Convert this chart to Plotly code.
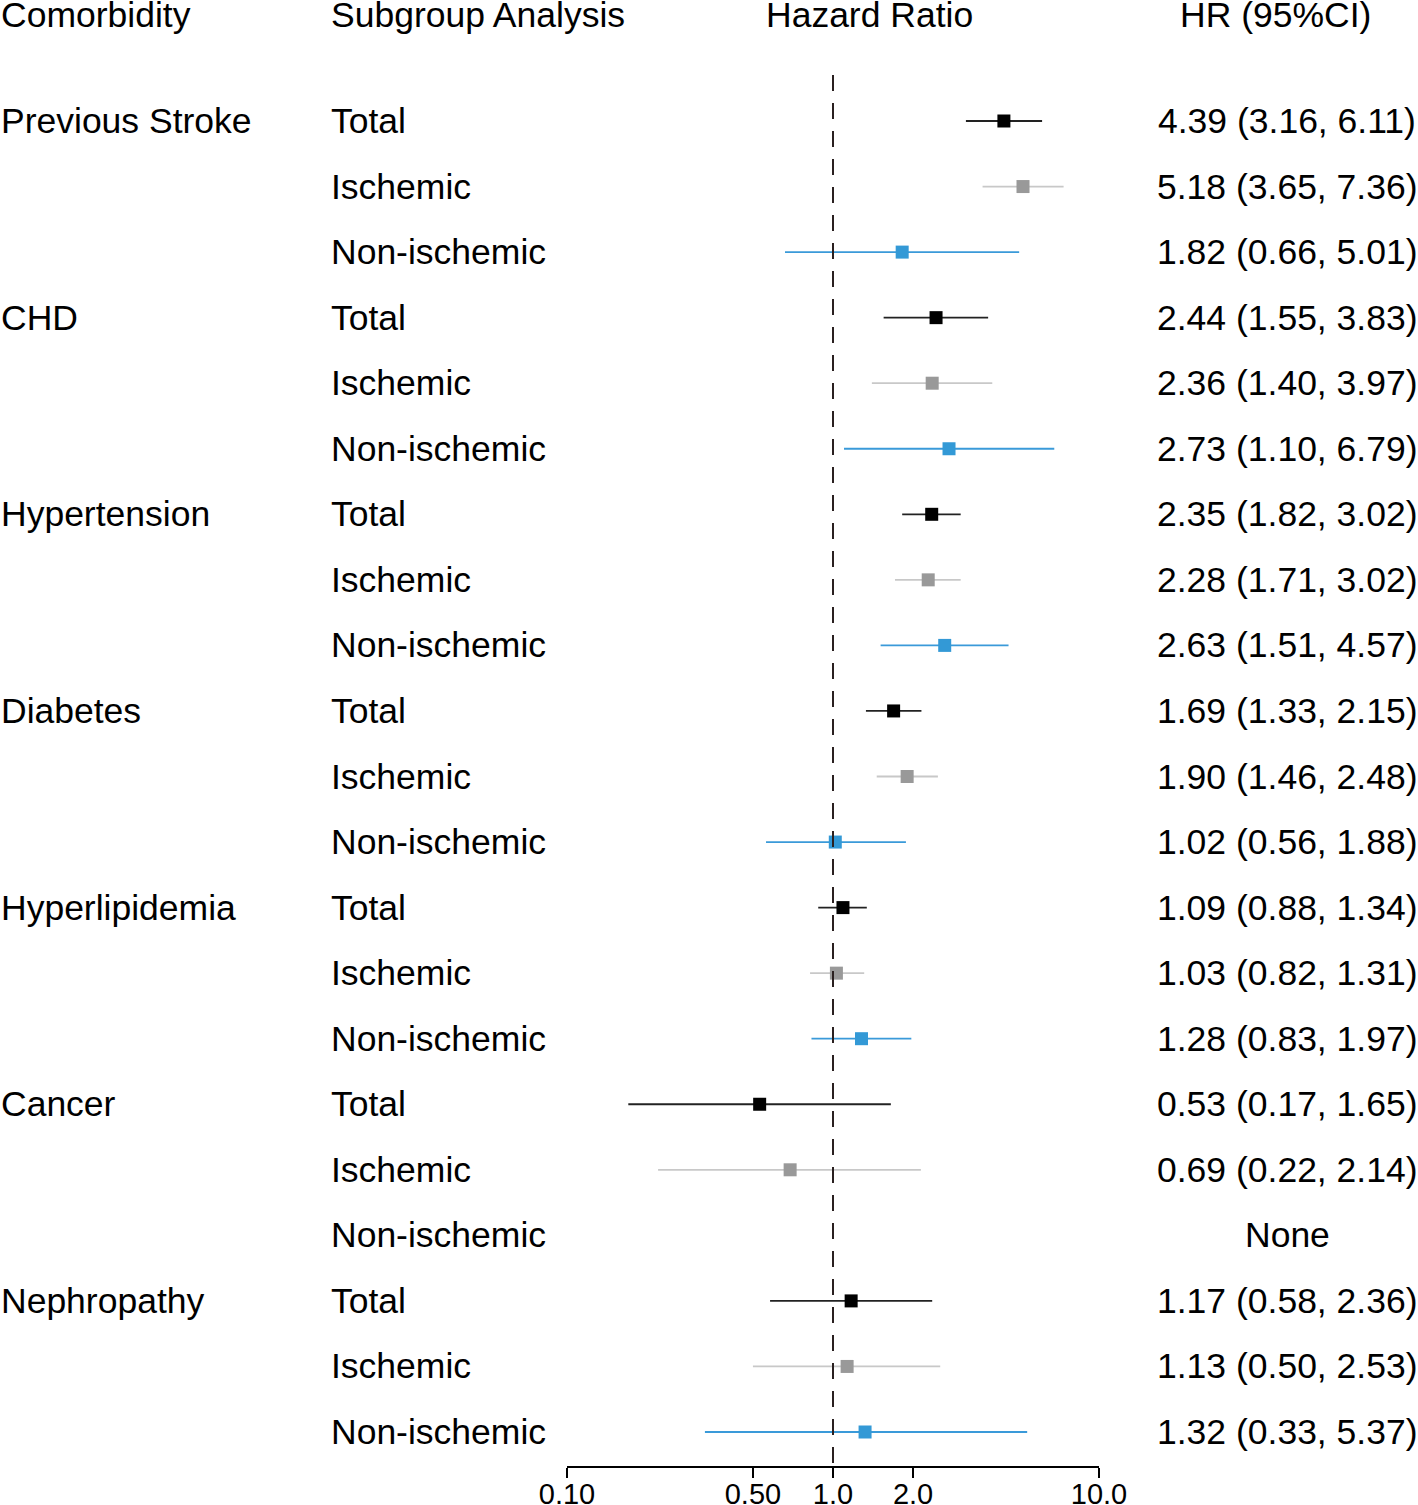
import plotly.graph_objects as go

# ---- data -------------------------------------------------------------
comorbidities = ["Previous Stroke", "CHD", "Hypertension", "Diabetes",
                 "Hyperlipidemia", "Cancer", "Nephropathy"]
subgroups = ["Total", "Ischemic", "Non-ischemic"]

total_hr = [4.39, 2.44, 2.35, 1.69, 1.09, 0.53, 1.17]
total_lo = [3.16, 1.55, 1.82, 1.33, 0.88, 0.17, 0.58]
total_hi = [6.11, 3.83, 3.02, 2.15, 1.34, 1.65, 2.36]

isch_hr = [5.18, 2.36, 2.28, 1.90, 1.03, 0.69, 1.13]
isch_lo = [3.65, 1.40, 1.71, 1.46, 0.82, 0.22, 0.50]
isch_hi = [7.36, 3.97, 3.02, 2.48, 1.31, 2.14, 2.53]

nonisch_hr = [1.82, 2.73, 2.63, 1.02, 1.28, None, 1.32]
nonisch_lo = [0.66, 1.10, 1.51, 0.56, 0.83, None, 0.33]
nonisch_hi = [5.01, 6.79, 4.57, 1.88, 1.97, None, 5.37]

tick_vals = [0.1, 0.5, 1, 2, 10]
tick_text = ["0.10", "0.50", "1.0", "2.0", "10.0"]

# ---- styling ----------------------------------------------------------
FONT = "Liberation Sans, Arial, sans-serif"
W, H = 1418, 1505
BOTTOM = 39
ROW0_PX, ROW_PX = 121, 65.55
plot_h = H - BOTTOM
y_top = -ROW0_PX / ROW_PX
y_bot = (plot_h - ROW0_PX) / ROW_PX

series = [
    ("Total", total_hr, total_lo, total_hi, "#222222", "#000000"),
    ("Ischemic", isch_hr, isch_lo, isch_hi, "#c8c8c8", "#999999"),
    ("Non-ischemic", nonisch_hr, nonisch_lo, nonisch_hi, "#3a9ad9", "#3399d6"),
]

fig = go.Figure()

for j, (name, hr, lo, hi, line_c, mark_c) in enumerate(series):
    rows = [3 * i + j for i in range(len(comorbidities))]
    plus = [None if h is None else h - v for h, v in zip(hi, hr)]
    minus = [None if l is None else v - l for l, v in zip(lo, hr)]
    fig.add_trace(go.Scatter(
        x=hr, y=rows, mode="markers", name=name,
        marker=dict(symbol="square", size=13, color=mark_c),
        error_x=dict(type="data", symmetric=False, array=plus, arrayminus=minus,
                     color=line_c, thickness=1.8, width=0),
        showlegend=False,
    ))

# reference line at HR = 1
fig.add_trace(go.Scatter(
    x=[1, 1], y=[-0.70, y_bot], mode="lines",
    line=dict(color="#2a2020", width=2, dash="16px,12px"),
    showlegend=False, hoverinfo="skip",
))

ann = []
txt = dict(family=FONT, size=35.5, color="#000000")
hdr_y = (15 - ROW0_PX) / ROW_PX


def label(x, y, text, anchor):
    return dict(x=x / W, y=y, xref="paper", yref="y", text=text, borderpad=0,
                xanchor=anchor, yanchor="middle", showarrow=False, font=txt)


for x, xa, t in [(0, "left", "Comorbidity"), (330, "left", "Subgroup Analysis"),
                 (869, "center", "Hazard Ratio"), (1275, "center", "HR (95%CI)")]:
    ann.append(label(x, hdr_y, t, xa))

for i, c in enumerate(comorbidities):
    ann.append(label(0, 3 * i, c, "left"))
    for j, (name, hr, lo, hi, _, _) in enumerate(series):
        r = 3 * i + j
        ann.append(label(330, r, name, "left"))
        if hr[i] is None:
            t = "None"
        else:
            t = f"{hr[i]:.2f} ({lo[i]:.2f}, {hi[i]:.2f})"
        ann.append(label(1287, r, t, "center"))

fig.update_layout(
    template="none",
    width=W, height=H,
    margin=dict(l=0, r=0, t=0, b=BOTTOM, pad=0, autoexpand=False),
    paper_bgcolor="white", plot_bgcolor="white",
    annotations=ann,
    xaxis=dict(type="log", range=[-1, 1], domain=[567 / W, 1099 / W],
               tickvals=tick_vals, ticktext=tick_text, automargin=False,
               showline=True, linecolor="#000000", linewidth=2,
               ticks="outside", ticklen=10, tickwidth=2, tickcolor="#000000",
               ticklabelstandoff=-9,
               tickfont=dict(family=FONT, size=29, color="#000000"),
               showgrid=False, zeroline=False),
    yaxis=dict(range=[y_bot, y_top], visible=False, showgrid=False,
               zeroline=False, automargin=False),
)

# drop the default 8px body margin so the figure fills the window exactly
fig.write_html("out.html", config={"displayModeBar": False},
               post_script="document.body.style.margin='0';")
